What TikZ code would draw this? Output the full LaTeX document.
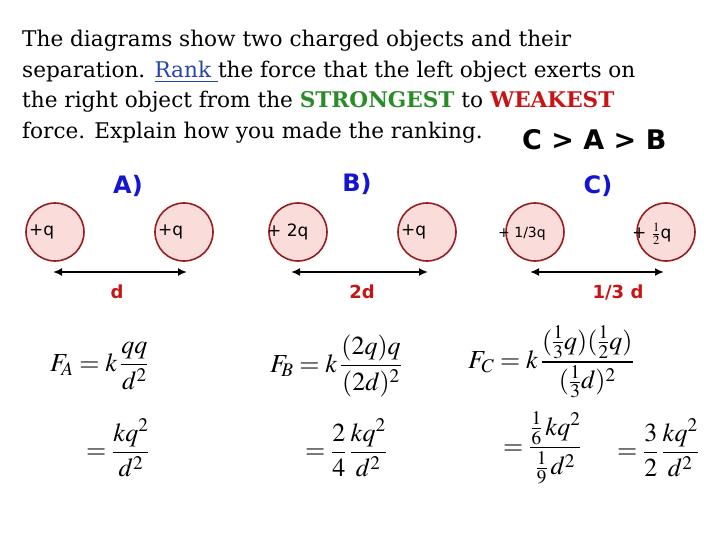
\documentclass[tikz,border=0pt]{standalone}
\usepackage{amsmath}
\usepackage{mathptmx}
\usepackage{fontspec}
\setmainfont{DejaVu Serif}
\newfontfamily\lblfont{DejaVu Sans}
\definecolor{ballfill}{RGB}{250,220,218}
\definecolor{balledge}{RGB}{150,30,35}
\definecolor{lblblue}{RGB}{20,20,210}
\definecolor{lblred}{RGB}{200,20,20}
\definecolor{sgreen}{RGB}{40,140,40}
\definecolor{linkblue}{RGB}{40,70,170}
\tikzset{
  ball/.style={circle, draw=balledge, line width=1.6pt, fill=ballfill, minimum size=58pt, inner sep=0pt},
  chg/.style={font=\lblfont\fontsize{17}{18}\selectfont, anchor=west, inner sep=0pt},
  tag/.style={font=\lblfont\bfseries\fontsize{24}{26}\selectfont, text=lblblue},
  dist/.style={font=\lblfont\bfseries\fontsize{18}{20}\selectfont, text=lblred},
  sep/.style={{Latex[length=9pt,width=8pt]}-{Latex[length=9pt,width=8pt]}, line width=1.8pt},
  title/.style={font=\fontsize{21.6}{24}\selectfont, anchor=base west, inner sep=0pt},
  eq/.style={font=\fontsize{26}{30}\selectfont, inner sep=0pt}
}
\usetikzlibrary{arrows.meta}
\begin{document}
\begin{tikzpicture}[x=1pt,y=-1pt]
\useasboundingbox (0,0) rectangle (720,540);
\node[title] (t1) at (22,47) {The diagrams show two charged objects and their};
\node[title] (t2) at (22,78) {separation. \textcolor{linkblue}{\underline{Rank }}the force that the left object exerts on};
\node[title] (t3) at (22,108) {the right object from the \textcolor{sgreen}{\textbf{STRONGEST}} to \textcolor{lblred}{\textbf{WEAKEST}}};
\node[title] (t4) at (22,139) {force. Explain how you made the ranking.};
\node[font=\lblfont\bfseries\fontsize{27}{28}\selectfont, anchor=base west, inner sep=0pt] (rank) at (522,150) {C > A > B};

\node[tag] (la) at (128,186) {A)};
\node[tag] (lb) at (357,184) {B)};
\node[tag] (lc) at (598,186) {C)};

\node[ball] (a1) at (55,232) {};
\node[ball] (a2) at (184,232) {};
\node[ball] (b1) at (298,232) {};
\node[ball] (b2) at (427,232) {};
\node[ball] (c1) at (535,232) {};
\node[ball] (c2) at (666,232) {};
\node[chg] (qa1) at (29,232) {+q};
\node[chg] (qa2) at (158,232) {+q};
\node[chg] (qb1) at (267,232) {+ 2q};
\node[chg] (qb2) at (401,232) {+q};
\node[chg, font=\lblfont\fontsize{14}{15}\selectfont] (qc1) at (498,234) {+ 1/3q};
\node[chg] (qc2) at (632,234) {+ $\tfrac12$q};

\coordinate (sa1) at (53,272); \coordinate (sa2) at (187,272);
\coordinate (sb1) at (291,272); \coordinate (sb2) at (428,272);
\coordinate (sc1) at (530,272); \coordinate (sc2) at (664,272);
\draw[sep] (sa1) -- (sa2);
\draw[sep] (sb1) -- (sb2);
\draw[sep] (sc1) -- (sc2);
\node[dist] (da) at (117,292) {d};
\node[dist] (db) at (362,292) {2d};
\node[dist] (dc) at (618,292) {1/3 d};

\node[eq, anchor=west] (fa) at (50,366) {$F_{\!A} = k\,\dfrac{qq}{d^2}$};
\node[eq, anchor=west] (fa2) at (86,448) {$=\dfrac{kq^2}{d^2}$};
\node[eq, anchor=west] (fb) at (270,366) {$F_{\!B} = k\,\dfrac{(2q)q}{(2d)^2}$};
\node[eq, anchor=west] (fb2) at (305,448) {$=\dfrac{2}{4}\,\dfrac{kq^2}{d^2}$};
\node[eq, anchor=west] (fc) at (468,362) {$F_{C} = k\,\dfrac{(\frac13 q)(\frac12 q)}{(\frac13 d)^2}$};
\node[eq, anchor=west] (fc2) at (503,448) {$=\dfrac{\frac16\,kq^2}{\frac19\,d^2}$};
\node[eq, anchor=west] (fc3) at (617,448) {$=\dfrac{3}{2}\,\dfrac{kq^2}{d^2}$};
\end{tikzpicture}
\end{document}
